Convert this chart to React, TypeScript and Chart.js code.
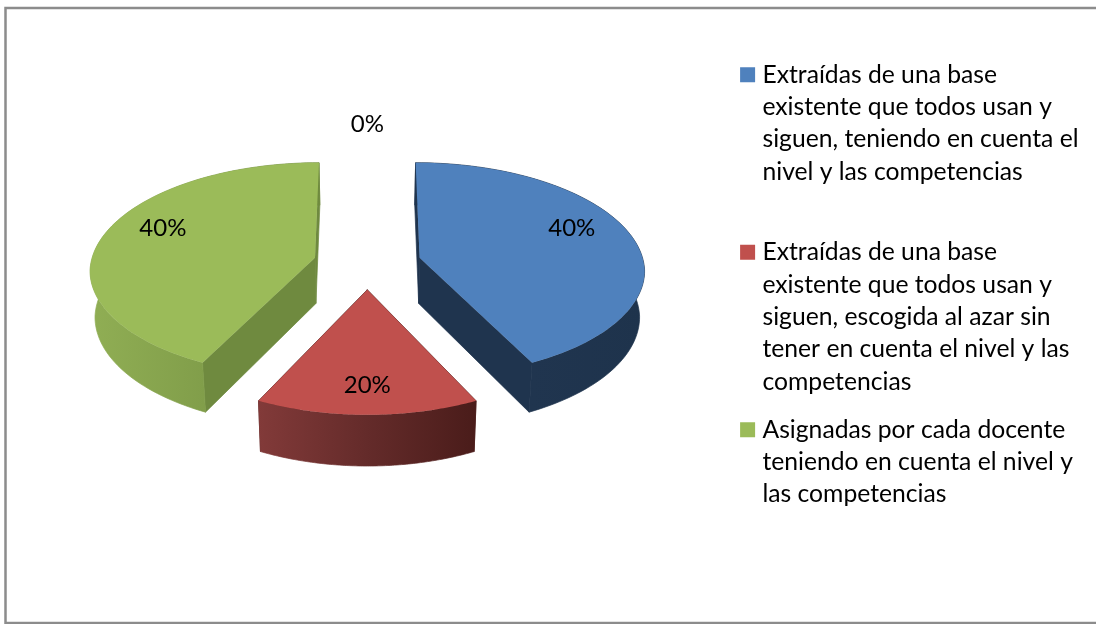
import React, { useEffect, useRef } from "react";
import { Chart, registerables } from "chart.js";

Chart.register(...registerables);

const CATEGORIES = [
  ["Extraídas de una base", "existente que todos usan y", "siguen, teniendo en cuenta el", "nivel y las competencias", ""],
  ["Extraídas de una base", "existente que todos usan y", "siguen, escogida al azar sin", "tener en cuenta el nivel y las", "competencias"],
  ["Asignadas por cada docente", "teniendo en cuenta el nivel y", "las competencias"],
  [""],
];
const VALUES = [40, 20, 40, 0];
const COLORS = ["#4f81bd", "#c0504d", "#9bbb59", "#8064a2"];
const WALL_COLORS = ["#1f344e", "#4f1f1d", "#6f8a3f", "#4d3c61"];
const RIM_STOPS = [
  ["#1f344e", "#20354f", "#1e334c"],
  ["#823a39", "#642b2a", "#4a1c1a"],
  ["#90ae54", "#819e4a", "#6f8a3e"],
  ["#4d3c61", "#4d3c61", "#4d3c61"],
];

// Look of the tilted pie
const FONT_FAMILY = "Lato";
const FONT_SIZE = 24.7;
const EXPLODE = 55;
const TILT = 0.444;
const RX = 225;
const RY_BACK = 108;
const RY_FRONT = 111;
const RIM_SHIFT = 13;
const DEPTH = 46;
const DEPTH_GROWTH = 0.035;
const DEPTH_TAPER = 0.982;
const LABEL_RX = 160;
const LABEL_RY = 95.5;
const PIE_LIFT = 25;

function project(theta: number, r: number, frontScale: number, warp: number) {
  const mirrored = theta > Math.PI;
  const s = mirrored ? -1 : 1;
  const t = mirrored ? 2 * Math.PI - theta : theta;
  const w = t > Math.PI / 2 ? t + warp * Math.sin(2 * (t - Math.PI / 2)) : t;
  const u = Math.sin(w);
  const v = -Math.cos(w);
  return {
    x: s * (u * RX * r - 4 * r * Math.max(0, -v)),
    y: r * (v * (v > 0 ? RY_FRONT * frontScale : RY_BACK) + RIM_SHIFT),
  };
}

const pieBase = (arc: any) => {
  const p = arc.getProps(["x", "y", "startAngle", "endAngle"], true);
  const start = p.startAngle + Math.PI / 2;
  const end = p.endAngle + Math.PI / 2;
  const mid = (start + end) / 2;
  const off = arc.options.offset || 0;
  return {
    cx: p.x,
    cy: p.y - PIE_LIFT,
    start,
    end,
    mid,
    ax: p.x + Math.sin(mid) * off,
    ay: p.y - PIE_LIFT - Math.cos(mid) * off * TILT,
  };
};

const tiltedPie = {
  id: "tiltedPie",
  beforeDatasetsDraw(chart: any) {
    const ctx = chart.ctx;
    const arcs = chart.getDatasetMeta(0).data;
    const order = [2, 0, 1];
    order.forEach((i) => {
      const arc = arcs[i];
      const b = pieBase(arc);
      if (b.end - b.start <= 0) return;
      const frontScale = 0.97 - 0.04 * Math.cos(b.mid);
      const warp = 0.115 - 0.015 * Math.cos(b.mid);
      const top: { x: number; y: number }[] = [];
      const n = 90;
      for (let k = 0; k <= n; k++) {
        const q = project(b.start + ((b.end - b.start) * k) / n, 1, frontScale, warp);
        top.push({ x: b.ax + q.x, y: b.ay + q.y });
      }
      const apex = { x: b.ax, y: b.ay };
      const low = (q: { x: number; y: number }) => ({
        x: b.cx + (q.x - b.cx) * DEPTH_TAPER,
        y: q.y + DEPTH + (q.y - b.cy) * DEPTH_GROWTH,
      });
      const fillPoly = (pts: { x: number; y: number }[], style: any, seal = true) => {
        ctx.beginPath();
        pts.forEach((q, j) => (j ? ctx.lineTo(q.x, q.y) : ctx.moveTo(q.x, q.y)));
        ctx.closePath();
        ctx.fillStyle = style;
        ctx.fill();
        if (seal) {
          ctx.strokeStyle = style;
          ctx.lineWidth = 0.7;
          ctx.stroke();
        }
      };
      fillPoly([top[0], apex, low(apex), low(top[0])], WALL_COLORS[i]);
      fillPoly([top[n], apex, low(apex), low(top[n])], WALL_COLORS[i]);
      const xs = top.map((q) => q.x);
      const grad = ctx.createLinearGradient(Math.min(...xs), 0, Math.max(...xs), 0);
      RIM_STOPS[i].forEach((c, j) => grad.addColorStop(j / 2, c));
      fillPoly([...top, ...top.map(low).reverse()], grad);
      fillPoly([apex, ...top], arc.options.backgroundColor, false);
    });
    return false;
  },
  afterDraw(chart: any) {
    const ctx = chart.ctx;
    const arcs = chart.getDatasetMeta(0).data;
    const total = VALUES.reduce((a, c) => a + c, 0);
    ctx.save();
    ctx.font = `24px ${FONT_FAMILY}`;
    ctx.fillStyle = "#000";
    ctx.textAlign = "center";
    ctx.textBaseline = "middle";
    arcs.forEach((arc: any, i: number) => {
      const b = pieBase(arc);
      const f = VALUES[i] === 0 ? 1.22 : 1;
      const x = b.ax + f * LABEL_RX * Math.sin(b.mid);
      const y = b.ay - f * LABEL_RY * Math.cos(b.mid);
      ctx.fillText(`${Math.round((VALUES[i] / total) * 100)}%`, x, y);
    });
    ctx.restore();
  },
};

const frame = {
  id: "frame",
  beforeDraw(chart: any) {
    const ctx = chart.ctx;
    ctx.save();
    ctx.fillStyle = "#fff";
    ctx.fillRect(0, 0, chart.width, chart.height);
    ctx.strokeStyle = "#8c8c8c";
    ctx.lineWidth = 2.5;
    ctx.strokeRect(5.5, 8, chart.width + 20, 615);
    ctx.restore();
  },
};

export default function App() {
  const ref = useRef<HTMLCanvasElement>(null);
  useEffect(() => {
    const chart = new Chart(ref.current!, {
      type: "pie",
      data: {
        labels: CATEGORIES as any,
        datasets: [{ data: VALUES, backgroundColor: COLORS, offset: EXPLODE, borderWidth: 0 } as any],
      },
      options: {
        responsive: false,
        animation: false,
        layout: { padding: { top: 46.5, bottom: 90, left: 5.5, right: 7.5 } },
        plugins: {
          tooltip: { enabled: false },
          legend: {
            position: "right",
            align: "start",
            labels: {
              boxWidth: 5,
              boxHeight: 5,
              padding: 16,
              color: "#000",
              font: { family: FONT_FAMILY, size: FONT_SIZE, lineHeight: 32.3 / FONT_SIZE },
              generateLabels: () =>
                CATEGORIES.slice(0, 3).map((text, i) => ({
                  text: text as any,
                  fillStyle: COLORS[i],
                  strokeStyle: COLORS[i],
                  lineWidth: 10,
                  hidden: false,
                  index: i,
                })),
            },
          },
        },
      },
      plugins: [frame, tiltedPie],
    } as any);
    return () => chart.destroy();
  }, []);
  return <canvas ref={ref} width={1096} height={624} style={{ position: "fixed", left: 0, top: 0, display: "block" }} />;
}
